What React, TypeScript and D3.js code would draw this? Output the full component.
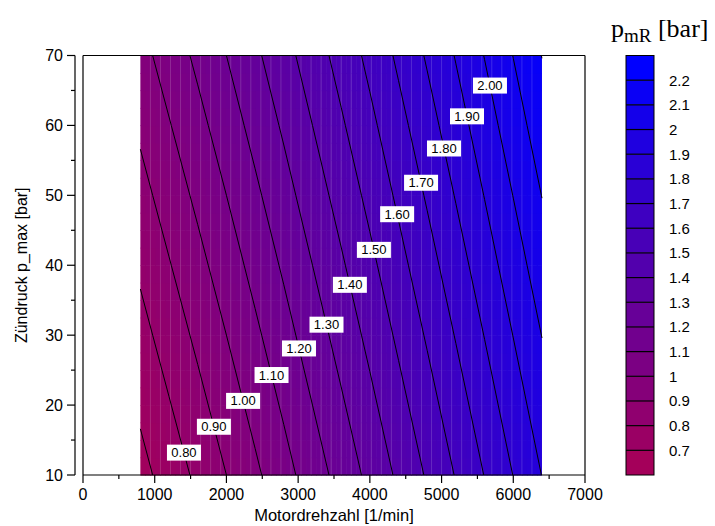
import React from "react";
import * as d3 from "d3";

// Grid of friction mean effective pressure p_mR [bar]
const speeds = [800, 1200, 1600, 2000, 2400, 2800, 3200, 3600, 4000, 4400, 4800, 5200, 5600, 6000, 6400];
const pressures = [10, 20, 30, 40, 50, 60, 70];
const pmrRows = [
  [0.667, 0.744, 0.821, 0.900, 0.981, 1.064, 1.150, 1.237, 1.326, 1.418, 1.511, 1.606, 1.703, 1.802, 1.902],
  [0.717, 0.794, 0.871, 0.950, 1.031, 1.114, 1.200, 1.287, 1.376, 1.468, 1.561, 1.656, 1.753, 1.852, 1.952],
  [0.767, 0.844, 0.921, 1.000, 1.081, 1.164, 1.250, 1.337, 1.426, 1.518, 1.611, 1.706, 1.803, 1.902, 2.002],
  [0.817, 0.894, 0.971, 1.050, 1.131, 1.214, 1.300, 1.387, 1.476, 1.568, 1.661, 1.756, 1.853, 1.952, 2.052],
  [0.867, 0.944, 1.021, 1.100, 1.181, 1.264, 1.350, 1.437, 1.526, 1.618, 1.711, 1.806, 1.903, 2.002, 2.102],
  [0.917, 0.994, 1.071, 1.150, 1.231, 1.314, 1.400, 1.487, 1.576, 1.668, 1.761, 1.856, 1.953, 2.052, 2.152],
  [0.967, 1.044, 1.121, 1.200, 1.281, 1.364, 1.450, 1.537, 1.626, 1.718, 1.811, 1.906, 2.003, 2.102, 2.202],
];

// Contour levels and inline labels (level, p_max where the label sits)
const contourLevels = [0.7, 0.8, 0.9, 1.0, 1.1, 1.2, 1.3, 1.4, 1.5, 1.6, 1.7, 1.8, 1.9, 2.0, 2.1, 2.2];
const labelLevels = [0.8, 0.9, 1.0, 1.1, 1.2, 1.3, 1.4, 1.5, 1.6, 1.7, 1.8, 1.9, 2.0];
const labelPressures = [13.2, 16.9, 20.6, 24.3, 28.1, 31.5, 37.2, 42.2, 47.3, 51.8, 56.7, 61.3, 65.7];

// Axis ticks
const xTicks = [0, 1000, 2000, 3000, 4000, 5000, 6000, 7000];
const xMinorTicks = [500, 1500, 2500, 3500, 4500, 5500, 6500];
const yTicks = [10, 20, 30, 40, 50, 60, 70];
const yMinorTicks = [15, 25, 35, 45, 55, 65];

// Colour bar class boundaries
const barBounds = [0.7, 0.8, 0.9, 1.0, 1.1, 1.2, 1.3, 1.4, 1.5, 1.6, 1.7, 1.8, 1.9, 2.0, 2.1, 2.2];
const barLabels = ["0.7", "0.8", "0.9", "1", "1.1", "1.2", "1.3", "1.4", "1.5", "1.6", "1.7", "1.8", "1.9", "2", "2.1", "2.2"];

const SANS = "'Liberation Sans', Arial, Helvetica, sans-serif";
const SERIF = "'Liberation Serif', 'Times New Roman', serif";

function cellIndex(arr: number[], v: number) {
  const i = d3.bisectRight(arr, v) - 1;
  return Math.max(0, Math.min(arr.length - 2, i));
}

function valueAt(n: number, p: number) {
  const i = cellIndex(speeds, n);
  const j = cellIndex(pressures, p);
  const tx = (n - speeds[i]) / (speeds[i + 1] - speeds[i]);
  const ty = (p - pressures[j]) / (pressures[j + 1] - pressures[j]);
  const a = pmrRows[j][i], b = pmrRows[j][i + 1];
  const c = pmrRows[j + 1][i], d = pmrRows[j + 1][i + 1];
  return (a * (1 - tx) + b * tx) * (1 - ty) + (c * (1 - tx) + d * tx) * ty;
}

// Speed at which a given level is reached along a constant p_max row
function speedForLevel(level: number, p: number) {
  const vals = speeds.map((n) => valueAt(n, p));
  for (let i = 0; i < vals.length - 1; i++) {
    if (vals[i] <= level && level <= vals[i + 1]) {
      return speeds[i] + ((level - vals[i]) / (vals[i + 1] - vals[i])) * (speeds[i + 1] - speeds[i]);
    }
  }
  return NaN;
}

// Marching squares: isoline segments in data space
function isoSegments(level: number) {
  const segs: [number, number][][] = [];
  for (let j = 0; j < pressures.length - 1; j++) {
    for (let i = 0; i < speeds.length - 1; i++) {
      const corners: [number, number, number][] = [
        [speeds[i], pressures[j], pmrRows[j][i]],
        [speeds[i + 1], pressures[j], pmrRows[j][i + 1]],
        [speeds[i + 1], pressures[j + 1], pmrRows[j + 1][i + 1]],
        [speeds[i], pressures[j + 1], pmrRows[j + 1][i]],
      ];
      const pts: [number, number][] = [];
      for (let k = 0; k < 4; k++) {
        const [x1, y1, v1] = corners[k];
        const [x2, y2, v2] = corners[(k + 1) % 4];
        const above1 = v1 >= level;
        const above2 = v2 >= level;
        if (above1 !== above2) {
          const t = (level - v1) / (v2 - v1);
          pts.push([x1 + (x2 - x1) * t, y1 + (y2 - y1) * t]);
        }
      }
      if (pts.length >= 2) segs.push([pts[0], pts[1]]);
      if (pts.length === 4) segs.push([pts[2], pts[3]]);
    }
  }
  return segs;
}

export default function App() {
  const W = 715, H = 526;
  const x = d3.scaleLinear().domain([0, 7000]).range([83, 585]);
  const y = d3.scaleLinear().domain([10, 70]).range([475, 55.5]);
  const color = d3
    .scaleLinear<string>()
    .domain([0.65, 2.25])
    .range(["rgb(164,0,90)", "rgb(0,0,255)"])
    .interpolate(d3.interpolateRgb)
    .clamp(true);

  // Shaded field, drawn as fine tiles
  const nStep = 70, pStep = 2.5;
  const tiles: JSX.Element[] = [];
  const n0 = speeds[0], n1 = speeds[speeds.length - 1];
  const p0 = pressures[0], p1 = pressures[pressures.length - 1];
  for (let n = n0; n < n1 - 1e-6; n += nStep) {
    for (let p = p0; p < p1 - 1e-6; p += pStep) {
      const xa = x(n), xb = x(Math.min(n + nStep, n1));
      const ya = y(Math.min(p + pStep, p1)), yb = y(p);
      tiles.push(
        <rect
          key={`t${n}-${p}`}
          x={xa}
          y={ya}
          width={Math.min(xb - xa + 0.6, x(n1) - xa)}
          height={yb - ya + 0.6}
          fill={color(valueAt(n + nStep / 2, p + pStep / 2))}
        />
      );
    }
  }
  // Mesh seams
  const seams: number[] = d3.range(n0 + 140, n1 - 1, 140);

  const line = d3.line<[number, number]>().x((d) => x(d[0])).y((d) => y(d[1]));

  // Colour bar geometry
  const cbX = 626, cbW = 28, cbTop = 55.5, cbBot = 475;
  const nBoxes = barBounds.length + 1;
  const boxH = (cbBot - cbTop) / nBoxes;
  const cb = d3.scaleLinear().domain([2.2, 0.7]).range([cbTop + boxH, cbBot - boxH]);
  const boxMids = d3.range(nBoxes).map((k) => 0.65 + 0.1 * k);

  return (
    <svg width={W} height={H} style={{ position: "absolute", left: 0, top: 0, background: "#fff" }}>
      <rect x={0} y={0} width={W} height={H} fill="#fff" />
      <g>{tiles}</g>
      <g stroke="#ffffff" strokeOpacity={0.16} strokeWidth={1}>
        {seams.map((n) => (
          <line key={`s${n}`} x1={x(n)} x2={x(n)} y1={y(p1)} y2={y(p0)} />
        ))}
      </g>
      <g fill="none" stroke="#000" strokeWidth={1}>
        {contourLevels.map((lv) =>
          isoSegments(lv).map((s, k) => <path key={`c${lv}-${k}`} d={line(s) || ""} />)
        )}
      </g>
      <g fontFamily={SANS} fontSize={13}>
        {labelLevels.map((lv, k) => {
          const p = labelPressures[k];
          const cx = x(speedForLevel(lv, p));
          const cy = y(p);
          return (
            <g key={`l${lv}`}>
              <rect x={cx - 17} y={cy - 8} width={34} height={16} fill="#fff" />
              <text x={cx} y={cy + 4.5} textAnchor="middle" fill="#000">
                {lv.toFixed(2)}
              </text>
            </g>
          );
        })}
      </g>

      {/* frame */}
      <g stroke="#000" strokeWidth={1.2} fill="none">
        <line x1={83} x2={585} y1={55.5} y2={55.5} />
        <line x1={585} x2={585} y1={55.5} y2={475} />
        <line x1={83} x2={83} y1={55.5} y2={475} />
        <line x1={83} x2={585} y1={475} y2={475} />
      </g>

      {/* x axis */}
      <g stroke="#000" strokeWidth={1.2}>
        {xTicks.map((t) => (
          <line key={`xt${t}`} x1={x(t)} x2={x(t)} y1={475} y2={483} />
        ))}
        {xMinorTicks.map((t) => (
          <line key={`xm${t}`} x1={x(t)} x2={x(t)} y1={475} y2={479} />
        ))}
      </g>
      <g fontFamily={SANS} fontSize={16} textAnchor="middle" fill="#000">
        {xTicks.map((t) => (
          <text key={`xl${t}`} x={x(t)} y={500}>
            {t}
          </text>
        ))}
        <text x={(83 + 585) / 2} y={521} fontSize={16.5}>
          Motordrehzahl [1/min]
        </text>
      </g>

      {/* y axis */}
      <g stroke="#000" strokeWidth={1.2}>
        <line x1={75} x2={75} y1={55.5} y2={475} />
        {yTicks.map((t) => (
          <line key={`yt${t}`} x1={67} x2={75} y1={y(t)} y2={y(t)} />
        ))}
        {yMinorTicks.map((t) => (
          <line key={`ym${t}`} x1={71} x2={75} y1={y(t)} y2={y(t)} />
        ))}
      </g>
      <g fontFamily={SANS} fontSize={16} textAnchor="end" fill="#000">
        {yTicks.map((t) => (
          <text key={`yl${t}`} x={63} y={y(t) + 5.5}>
            {t}
          </text>
        ))}
      </g>
      <text
        fontFamily={SANS}
        fontSize={16}
        textAnchor="middle"
        transform={`translate(27,${(55.5 + 475) / 2}) rotate(-90)`}
      >
        Zündruck p_max [bar]
      </text>

      {/* colour bar */}
      <g>
        {boxMids.map((v, k) => {
          const top = cbTop + (nBoxes - 1 - k) * boxH;
          return (
            <rect key={`b${k}`} x={cbX} y={top} width={cbW} height={boxH} fill={color(v)} />
          );
        })}
        <rect x={cbX} y={cbTop} width={cbW} height={cbBot - cbTop} fill="none" stroke="#000" strokeWidth={1} />
        {barBounds.map((b) => (
          <line key={`bb${b}`} x1={cbX} x2={cbX + cbW} y1={cb(b)} y2={cb(b)} stroke="#000" strokeWidth={1.2} />
        ))}
      </g>
      <g fontFamily={SANS} fontSize={15} fill="#000">
        {barBounds.map((b, k) => (
          <text key={`bl${b}`} x={669} y={cb(b) + 5.5}>
            {barLabels[k]}
          </text>
        ))}
      </g>
      <text fontFamily={SERIF} fontSize={26} x={611} y={37} fill="#000">
        p
        <tspan fontSize={19} dy={5}>mR</tspan>
        <tspan dy={-5}> [bar]</tspan>
      </text>
    </svg>
  );
}
